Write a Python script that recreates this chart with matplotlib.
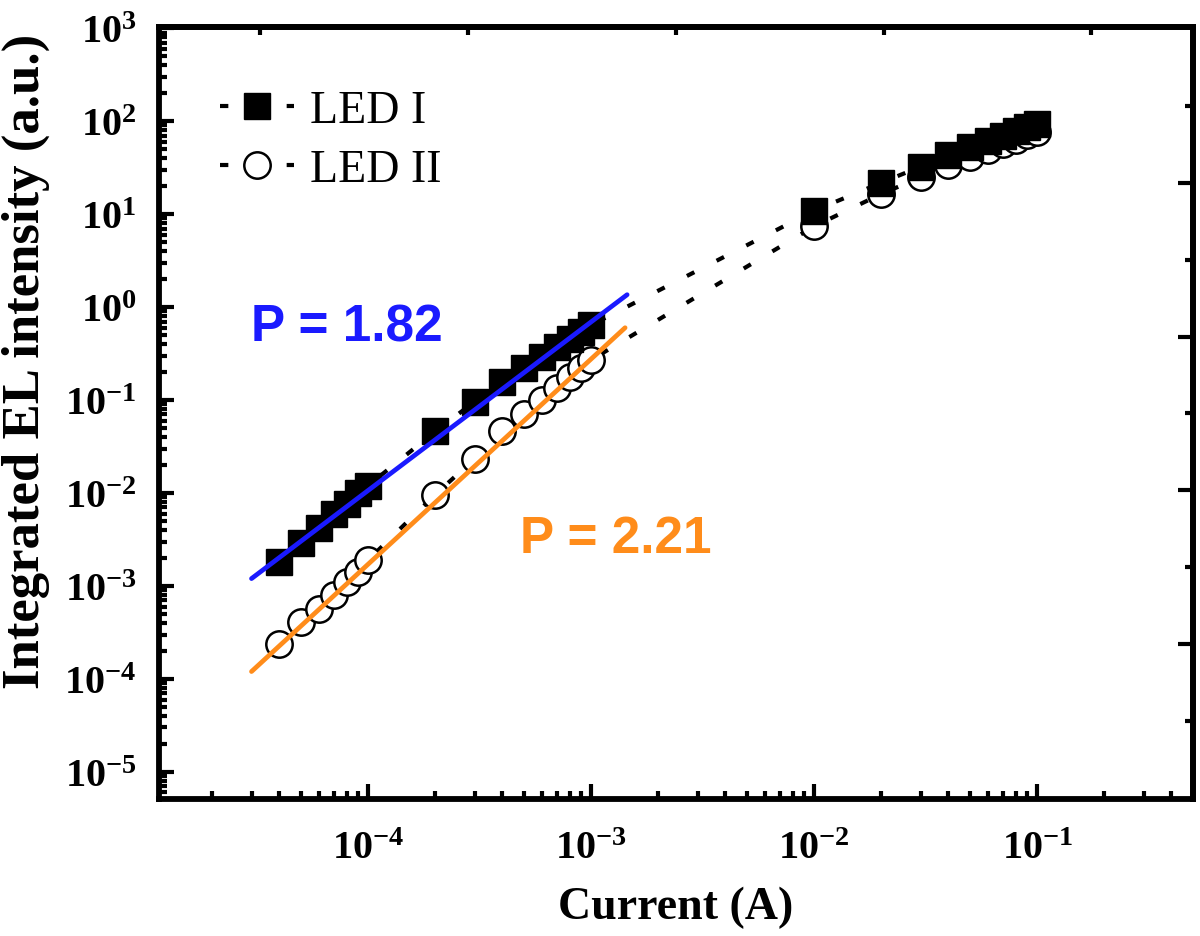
import math
import matplotlib
matplotlib.use('Agg')
import matplotlib.pyplot as plt
from matplotlib.ticker import FixedLocator, FuncFormatter, NullFormatter

plt.rcParams['font.family'] = 'Liberation Serif'
plt.rcParams['mathtext.fontset'] = 'custom'
plt.rcParams['mathtext.rm'] = 'Liberation Serif:bold'
plt.rcParams['mathtext.bf'] = 'Liberation Serif:bold'

# current (A)
current = [4e-5, 5e-5, 6e-5, 7e-5, 8e-5, 9e-5, 1e-4, 2e-4, 3e-4, 4e-4, 5e-4, 6e-4,
           7e-4, 8e-4, 9e-4, 1e-3, 1e-2, 2e-2, 3e-2, 4e-2, 5e-2, 6e-2, 7e-2, 8e-2,
           9e-2, 1e-1]
# integrated EL intensity (a.u.)
led1 = [1.8e-3, 2.9e-3, 4.2e-3, 5.9e-3, 7.7e-3, 9.9e-3, 1.2e-2, 4.6e-2, 9.6e-2,
        0.156, 0.22, 0.29, 0.37, 0.45, 0.54, 0.64, 10.9, 21.8, 32.4, 42.8, 52.6,
        61.0, 69.0, 79.0, 86.0, 93.5]
led2 = [2.4e-4, 4.1e-4, 5.6e-4, 8.0e-4, 1.09e-3, 1.4e-3, 1.9e-3, 9.6e-3, 2.34e-2,
        4.6e-2, 7.1e-2, 0.10, 0.136, 0.176, 0.22, 0.27, 7.4, 16.5, 24.9, 33.8, 41.4,
        48.9, 56.6, 63.5, 70.8, 76.8]

# power-law fit lines (end points)
fit1_x = [3e-5, 1.45e-3]
fit1_y = [1.2e-3, 1.36]
fit2_x = [3e-5, 1.42e-3]
fit2_y = [1.2e-4, 0.60]

x_exp = [-4, -3, -2, -1]
y_exp = [-5, -4, -3, -2, -1, 0, 1, 2, 3]

fig = plt.figure(figsize=(12, 9.37), dpi=100)
ax = fig.add_axes([0.1322, 0.1462, 0.8620, 0.8234])

dots = dict(linestyle=(0, (2, 6)), linewidth=3, color='black')
ax.plot(current, led2, marker='o', markersize=19, markerfacecolor='white',
        markeredgecolor='black', markeredgewidth=1.8, label='LED II', zorder=3, **dots)
ax.plot(current, led1, marker='s', markersize=19, markerfacecolor='black',
        markeredgecolor='black', markeredgewidth=1, label='LED I', zorder=4, **dots)

ax.plot(fit1_x, fit1_y, color='#1a1aff', linewidth=3.4, solid_capstyle='round', zorder=5)
ax.plot(fit2_x, fit2_y, color='#ff8c1a', linewidth=3.4, solid_capstyle='round', zorder=5)

ax.text(8.05e-5, 0.61, 'P = 1.82', color='#1a1aff', fontsize=37, fontweight='bold',
        family='Liberation Sans', ha='center', va='center')
ax.text(1.29e-3, 3.2e-3, 'P = 2.21', color='#ff8c1a', fontsize=37, fontweight='bold',
        family='Liberation Sans', ha='center', va='center')

ax.set_xscale('log')
ax.set_yscale('log')
ax.set_xlim(1.15e-5, 0.5)
ax.set_ylim(5.1e-6, 1.02e3)

def decade_ticks(exps, subs):
    return [s * 10.0 ** e for e in exps for s in subs]

fmt = FuncFormatter(lambda v, p: r'$\mathbf{10^{%d}}$' % round(math.log10(v)))
ax.xaxis.set_major_locator(FixedLocator(decade_ticks(x_exp, [1])))
ax.yaxis.set_major_locator(FixedLocator(decade_ticks(y_exp, [1])))
ax.xaxis.set_minor_locator(FixedLocator([t for t in decade_ticks([-5] + x_exp, range(2, 10))
                                         if 1.15e-5 < t < 0.5]))
ax.yaxis.set_minor_locator(FixedLocator([t for t in decade_ticks([-6] + y_exp[:-1], range(2, 10))
                                         if 5.1e-6 < t < 1.02e3]))
ax.xaxis.set_major_formatter(fmt)
ax.yaxis.set_major_formatter(fmt)
ax.xaxis.set_minor_formatter(NullFormatter())
ax.yaxis.set_minor_formatter(NullFormatter())
ax.tick_params(which='major', direction='in', length=11, width=3, labelsize=29)
ax.tick_params(which='minor', direction='in', length=5.5, width=3)
ax.tick_params(axis='x', pad=22)
ax.tick_params(axis='y', pad=16)

# sparse ticks on the opposite axes
top = ax.secondary_xaxis('top')
top.set_xticks([3.28e-5, 2.8e-4, 2.4e-3, 2.06e-2, 0.175])
top.xaxis.set_minor_locator(FixedLocator([]))
top.xaxis.set_major_formatter(NullFormatter())
top.xaxis.set_minor_formatter(NullFormatter())
top.tick_params(which='both', direction='in', length=6, width=3, labeltop=False)
right = ax.secondary_yaxis('right')
right.set_yticks([2.38e-4, 0.0109, 0.475, 21.8])
right.yaxis.set_minor_locator(FixedLocator([3.5e-5, 1.61e-3, 0.072, 3.22, 146]))
right.yaxis.set_major_formatter(NullFormatter())
right.yaxis.set_minor_formatter(NullFormatter())
right.tick_params(which='major', direction='in', length=11, width=3, labelright=False)
right.tick_params(which='minor', direction='in', length=6, width=3, labelright=False)
for a in (top, right):
    for s in a.spines.values():
        s.set_linewidth(4.2)

for s in ax.spines.values():
    s.set_linewidth(4.2)

ax.set_xlabel('Current (A)', fontsize=33, fontweight='bold', labelpad=14)
ax.set_ylabel('Integrated EL intensity (a.u.)', fontsize=38, fontweight='bold')
ax.yaxis.set_label_coords(-0.105, 0.568)

h, l = ax.get_legend_handles_labels()
ax.legend(h[::-1], l[::-1], loc='upper left', bbox_to_anchor=(0.042, 0.943), frameon=False,
          fontsize=33, handlelength=1.6, handletextpad=0.35, labelspacing=0.36,
          borderaxespad=0)

fig.savefig('out.png', dpi=100)
